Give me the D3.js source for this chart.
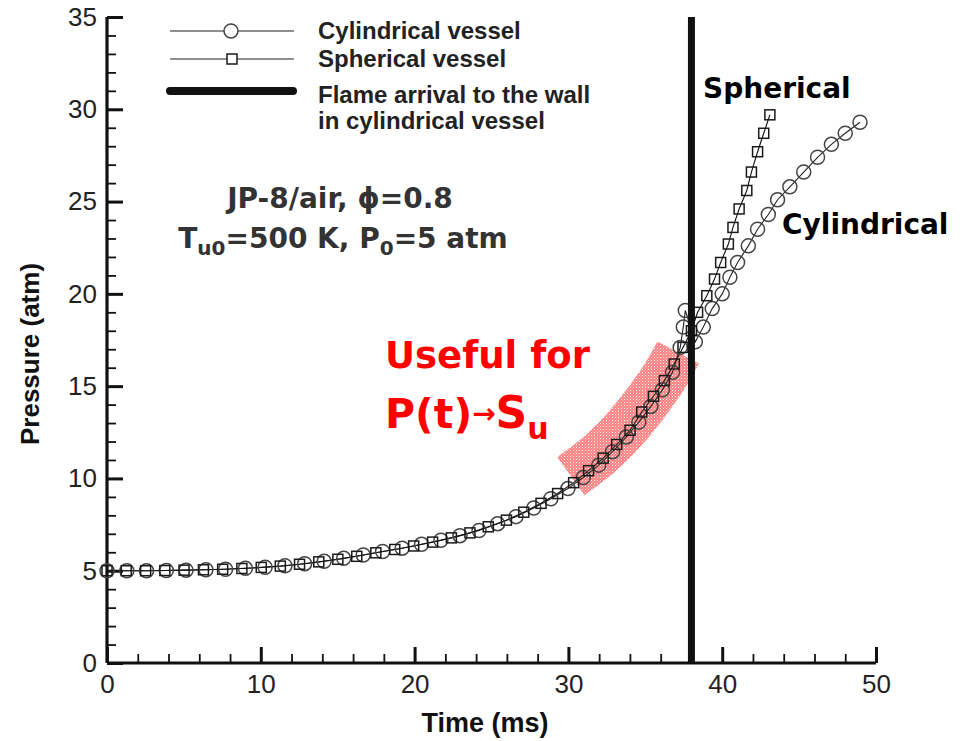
<!DOCTYPE html>
<html>
<head>
<meta charset="utf-8">
<script src="https://cdn.jsdelivr.net/npm/d3@7"></script>
<style>
  body { margin: 0; background: #fff; }
  svg { display: block; }
</style>
</head>
<body>
<svg id="chart" width="971" height="741"></svg>
<script>
// Pressure history, JP-8/air, phi = 0.8, Tu0 = 500 K, P0 = 5 atm
const cylTime = [0, 1.29, 2.57, 3.86, 5.14, 6.43, 7.71, 9.0, 10.28, 11.57, 12.85, 14.12, 15.39, 16.66,
  17.92, 19.19, 20.45, 21.71, 22.95, 24.19, 25.40, 26.59, 27.75, 28.86, 29.97, 30.97, 31.97, 32.87,
  33.77, 34.58, 35.36, 36.11, 36.77, 37.27, 37.47, 37.6, 38.25, 38.77, 39.35, 40.0, 40.5, 41.0, 41.7,
  42.3, 43.0, 43.6, 44.4, 45.3, 46.2, 47.1, 48.0, 48.96];
const cylPressure = [5.00, 5.00, 5.00, 5.01, 5.03, 5.05, 5.08, 5.13, 5.19, 5.27, 5.38, 5.51, 5.67, 5.85,
  6.04, 6.22, 6.43, 6.65, 6.90, 7.18, 7.55, 7.93, 8.40, 8.90, 9.45, 10.05, 10.72, 11.45,
  12.25, 13.05, 13.90, 14.80, 15.75, 17.1, 18.2, 19.1, 17.4, 18.2, 19.2, 20.0, 20.9, 21.7, 22.6,
  23.5, 24.3, 25.1, 25.8, 26.6, 27.4, 28.1, 28.7, 29.3];

const sphTime = [0, 1.25, 2.51, 3.76, 5.01, 6.27, 7.52, 8.77, 10.03, 11.27, 12.52, 13.77, 15.01, 16.24,
  17.48, 18.71, 19.94, 21.17, 22.39, 23.60, 24.79, 25.97, 27.10, 28.22, 29.30, 30.34, 31.31, 32.26,
  33.14, 34.01, 34.77, 35.53, 36.24, 36.88, 37.45, 38.0, 38.4, 39.0, 39.5, 39.9, 40.4, 40.7, 41.1,
  41.6, 41.9, 42.3, 42.7, 43.1];
const sphPressure = [5.00, 5.00, 5.00, 5.01, 5.03, 5.05, 5.08, 5.12, 5.18, 5.25, 5.35, 5.48, 5.62, 5.78,
  5.97, 6.15, 6.34, 6.55, 6.78, 7.05, 7.38, 7.74, 8.17, 8.65, 9.18, 9.77, 10.42, 11.10,
  11.84, 12.61, 13.60, 14.45, 15.30, 16.20, 17.10, 18.00, 19.0, 19.9, 20.8, 21.7, 22.7, 23.6, 24.6,
  25.6, 26.6, 27.7, 28.7, 29.7];

// Flame reaches the wall of the cylindrical vessel (ms)
const flameArrivalTime = 38;

// Range used for the P(t) -> Su evaluation (centre line of the highlight)
const usefulTime = [30.16, 32, 34, 36, 37.14];
const usefulPressure = [10.13, 11.3, 13.0, 15.2, 16.82];

// Axis ticks
const xMajorTicks = [0, 10, 20, 30, 40, 50];
const xMinorTicks = [2, 4, 6, 8, 12, 14, 16, 18, 22, 24, 26, 28, 32, 34, 36, 38, 42, 44, 46, 48];
const yMajorTicks = [0, 5, 10, 15, 20, 25, 30, 35];
const yMinorTicks = [1, 2, 3, 4, 6, 7, 8, 9, 11, 12, 13, 14, 16, 17, 18, 19, 21, 22, 23, 24, 26, 27, 28, 29, 31, 32, 33, 34];

const svg = d3.select("#chart");
const x = d3.scaleLinear().domain([0, 50]).range([107, 876]);
const y = d3.scaleLinear().domain([0, 35]).range([663, 17]);

const cylData = cylTime.map((t, i) => ({ t, p: cylPressure[i] }));
const sphData = sphTime.map((t, i) => ({ t, p: sphPressure[i] }));

// Dotted pink fill for the highlight band
const defs = svg.append("defs");
const pat = defs.append("pattern").attr("id", "pinkDots")
  .attr("width", 3).attr("height", 3).attr("patternUnits", "userSpaceOnUse");
pat.append("rect").attr("width", 3).attr("height", 3).attr("fill", "#ff6a6a");
pat.append("rect").attr("width", 1).attr("height", 1).attr("fill", "#ffffff");
pat.append("rect").attr("x", 1.5).attr("y", 1.5).attr("width", 1).attr("height", 1).attr("fill", "#ffc4c4");

// Axes: ticks point into the plot
const axisFont = "'Liberation Sans', Arial, sans-serif";

const xAxis = svg.append("g").attr("transform", `translate(0,${y(0)})`)
  .call(d3.axisBottom(x).tickValues(xMajorTicks).tickSize(-16).tickPadding(12).tickFormat(d3.format("d")));
const xMinor = svg.append("g").attr("transform", `translate(0,${y(0)})`)
  .call(d3.axisBottom(x).tickValues(xMinorTicks).tickSize(-9).tickFormat(""));
const yAxis = svg.append("g").attr("transform", `translate(${x(0)},0)`)
  .call(d3.axisLeft(y).tickValues(yMajorTicks).tickSize(-16).tickPadding(10).tickFormat(d3.format("d")));
const yMinor = svg.append("g").attr("transform", `translate(${x(0)},0)`)
  .call(d3.axisLeft(y).tickValues(yMinorTicks).tickSize(-9).tickFormat(""));

[xAxis, yAxis].forEach(g => {
  g.select(".domain").attr("stroke", "#111").attr("stroke-width", 3.2);
  g.selectAll(".tick line").attr("stroke", "#111").attr("stroke-width", 3);
  g.selectAll(".tick text").attr("fill", "#222").style("font-family", axisFont).style("font-size", "26px");
});
[xMinor, yMinor].forEach(g => {
  g.select(".domain").remove();
  g.selectAll(".tick line").attr("stroke", "#111").attr("stroke-width", 1.8);
});
// d3 puts an outer tick on the domain path; redraw as a plain line
xAxis.select(".domain").attr("d", `M${x(0)},0H${x(50)}`);
yAxis.select(".domain").attr("d", `M0,${y(0)}V${y(35)}`);

// Axis titles
svg.append("text").attr("x", 485).attr("y", 732).attr("text-anchor", "middle")
  .style("font-family", axisFont).style("font-weight", "bold").style("font-size", "27px")
  .attr("fill", "#111").text("Time (ms)");
svg.append("text").attr("transform", `translate(39,${(y(0) + y(35)) / 2 + 14}) rotate(-90)`)
  .attr("text-anchor", "middle")
  .style("font-family", axisFont).style("font-weight", "bold").style("font-size", "26px")
  .attr("fill", "#111").text("Pressure (atm)");

// Highlight band over the usable range
const bandData = usefulTime.map((t, i) => ({ t, p: usefulPressure[i] }));
svg.append("path").datum(bandData)
  .attr("d", d3.line().x(d => x(d.t)).y(d => y(d.p)).curve(d3.curveNatural))
  .attr("fill", "none").attr("stroke", "url(#pinkDots)")
  .attr("stroke-width", 47).attr("stroke-linecap", "butt").attr("opacity", 0.85);

// Series lines
const line = d3.line().x(d => x(d.t)).y(d => y(d.p));
svg.append("path").datum(cylData).attr("d", line)
  .attr("fill", "none").attr("stroke", "#222").attr("stroke-width", 1.1);
svg.append("path").datum(sphData).attr("d", line)
  .attr("fill", "none").attr("stroke", "#111").attr("stroke-width", 1.1);

// Markers
svg.append("g").selectAll("circle").data(cylData).join("circle")
  .attr("cx", d => x(d.t)).attr("cy", d => y(d.p)).attr("r", 7)
  .attr("fill", "none").attr("stroke", "#444").attr("stroke-width", 1.5);
const sq = 10;
svg.append("g").selectAll("rect").data(sphData).join("rect")
  .attr("x", d => x(d.t) - sq / 2).attr("y", d => y(d.p) - sq / 2)
  .attr("width", sq).attr("height", sq)
  .attr("fill", "none").attr("stroke", "#1a1a1a").attr("stroke-width", 1.5);

// Flame arrival marker line
svg.append("line")
  .attr("x1", x(flameArrivalTime)).attr("x2", x(flameArrivalTime))
  .attr("y1", y(0)).attr("y2", y(35))
  .attr("stroke", "#111").attr("stroke-width", 7);

// Legend
const legendFont = "'Liberation Sans', Arial, sans-serif";
const lg = svg.append("g");
lg.append("line").attr("x1", 170).attr("x2", 294).attr("y1", 31).attr("y2", 31).attr("stroke", "#222").attr("stroke-width", 1.1);
lg.append("circle").attr("cx", 231).attr("cy", 31).attr("r", 7).attr("fill", "#fff").attr("stroke", "#444").attr("stroke-width", 1.5);
lg.append("line").attr("x1", 170).attr("x2", 294).attr("y1", 59).attr("y2", 59).attr("stroke", "#222").attr("stroke-width", 1.1);
lg.append("rect").attr("x", 232 - sq / 2).attr("y", 59 - sq / 2).attr("width", sq).attr("height", sq)
  .attr("fill", "#fff").attr("stroke", "#1a1a1a").attr("stroke-width", 1.5);
lg.append("line").attr("x1", 170).attr("x2", 293).attr("y1", 91).attr("y2", 91)
  .attr("stroke", "#111").attr("stroke-width", 8).attr("stroke-linecap", "round");
const legendText = [
  { y: 39, s: "Cylindrical vessel" },
  { y: 67, s: "Spherical vessel" },
  { y: 103, s: "Flame arrival to the wall" },
  { y: 129, s: "in cylindrical vessel" }
];
lg.selectAll("text.leg").data(legendText).join("text").attr("class", "leg")
  .attr("x", 318).attr("y", d => d.y)
  .style("font-family", legendFont).style("font-weight", "bold").style("font-size", "24px")
  .attr("fill", "#222").text(d => d.s);

// Condition annotation
const noteFont = "'DejaVu Sans', Verdana, sans-serif";
const note = svg.append("g").style("font-family", noteFont).style("font-weight", "bold")
  .style("font-size", "28px").attr("fill", "#333");
note.append("text").attr("x", 340).attr("y", 208).attr("text-anchor", "middle").text("JP-8/air, ϕ=0.8");
const l2 = note.append("text").attr("x", 343).attr("y", 248).attr("text-anchor", "middle");
l2.append("tspan").text("T");
l2.append("tspan").attr("dy", 7).style("font-size", "20px").text("u0");
l2.append("tspan").attr("dy", -7).text("=500 K, P");
l2.append("tspan").attr("dy", 7).style("font-size", "20px").text("0");
l2.append("tspan").attr("dy", -7).text("=5 atm");

// Curve labels
svg.append("text").attr("x", 703).attr("y", 98)
  .style("font-family", noteFont).style("font-weight", "bold").style("font-size", "28px")
  .attr("fill", "#000").text("Spherical");
svg.append("text").attr("x", 782).attr("y", 234)
  .style("font-family", noteFont).style("font-weight", "bold").style("font-size", "28px")
  .attr("fill", "#000").text("Cylindrical");

// Red callout
const red = svg.append("g").style("font-family", noteFont).style("font-weight", "bold").attr("fill", "#ff0000");
red.append("text").attr("x", 385).attr("y", 368).style("font-size", "37px").text("Useful for");
const r2 = red.append("text").attr("x", 385).attr("y", 428).style("font-size", "41px");
r2.append("tspan").text("P(t)");
r2.append("tspan").style("font-size", "28px").attr("dy", -5).text("→");
r2.append("tspan").attr("dy", 5).style("font-size", "44px").text("S");
r2.append("tspan").attr("dy", 11).style("font-size", "30px").text("u");
</script>
</body>
</html>
